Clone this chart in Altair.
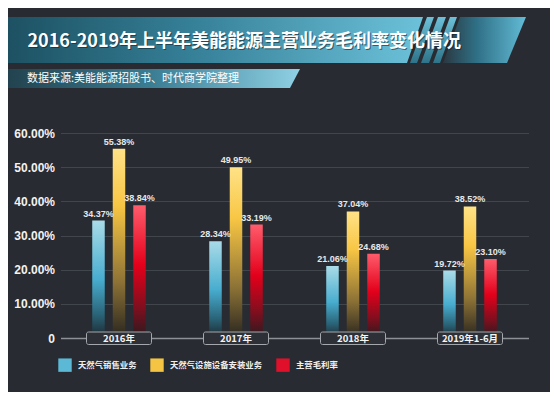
import altair as alt
import pandas as pd

categories = ["2016年", "2017年", "2018年", "2019年1-6月"]
series = ["天然气销售业务", "天然气设施设备安装业务", "主营毛利率"]
gas_sales = [0.3437, 0.2834, 0.2106, 0.1972]
install = [0.5538, 0.4995, 0.3704, 0.3852]
margin = [0.3884, 0.3319, 0.2468, 0.2310]

title_text = "2016-2019年上半年美能能源主营业务毛利率变化情况"
source_text = "数据来源:美能能源招股书、时代商学院整理"

rows = []
for i, c in enumerate(categories):
    for s, vals in zip(series, [gas_sales, install, margin]):
        rows.append({"category": c, "series": s, "value": vals[i]})
df = pd.DataFrame(rows)
cat_df = pd.DataFrame({"category": categories})
one = cat_df.head(1)

FONT = "Noto Sans CJK SC"
BG = "#282b31"
OX, OY = 60.5, 133  # plot origin on the page


def vgrad(stops):
    return alt.LinearGradient(
        gradient="linear", x1=0, y1=0, x2=0, y2=1,
        stops=[alt.GradientStop(offset=o, color=c) for o, c in stops],
    )


def hgrad(stops):
    return alt.LinearGradient(
        gradient="linear", x1=0, y1=0, x2=1, y2=0,
        stops=[alt.GradientStop(offset=o, color=c) for o, c in stops],
    )


# decorative banner polygons (page pixel coords), drawn as custom symbol paths
CX, CY, S = 265.0, 45.0, 300.0


def banner(points, fill, opacity=1.0):
    path = "M " + " L ".join(f"{(x - CX) / S:.4f} {(y - CY) / S:.4f}" for x, y in points) + " Z"
    return alt.Chart(one).mark_point(
        shape=path, filled=True, opacity=opacity, strokeWidth=0, size=(2 * S) ** 2, fill=fill,
    ).encode(x=alt.value(CX - OX), y=alt.value(CY - OY))


g_cyan = vgrad([(0, "#a9dbe8"), (0.5, "#48adcf"), (0.8, "#2a6478"), (1, "#1c272e")])
g_yellow = vgrad([(0, "#ffe287"), (0.3, "#f8c644"), (0.7, "#8e7336"), (1, "#28251f")])
g_red = vgrad([(0, "#ff5c6c"), (0.45, "#e3001b"), (0.78, "#7c0f1e"), (1, "#291b1f")])

band_main = banner([(0, 17), (423, 17), (407, 63), (0, 63)],
                   hgrad([(0, "#1c4f60"), (0.45, "#357f97"), (1, "#6cc2da")]))
stripes = alt.layer(*[
    banner([(a, 17), (b, 17), (b - 17, 63), (a - 17, 63)],
           vgrad([(0, "#6cc0d8"), (1, "#2e7389")]))
    for a, b in [(427, 434), (438, 446), (450, 457)]
])
band_end = banner([(460, 17), (526, 17), (507, 63), (443, 63)],
                  hgrad([(0, "#2a3840"), (0.4, "#2f6f85"), (1, "#62bcd6")]))
band_sub = banner([(0, 69), (300, 69), (290, 88), (0, 88)],
                  hgrad([(0, "#213f4b"), (0.5, "#3a7d93"), (1, "#8fd0e4")]))

xs = alt.X("category:N", sort=categories,
           scale=alt.Scale(paddingInner=0.474, paddingOuter=0.237),
           axis=alt.Axis(title=None, labels=False, ticks=False, domain=True,
                         domainColor="#8d9095", domainWidth=1.5, grid=False))
xo = alt.XOffset("series:N", sort=series,
                 scale=alt.Scale(paddingInner=0.39, paddingOuter=0.195))
ys = alt.Y("value:Q", scale=alt.Scale(domain=[0, 0.6], nice=False),
           axis=alt.Axis(title=None, values=[0, 0.1, 0.2, 0.3, 0.4, 0.5, 0.6],
                         labelExpr="datum.value == 0 ? '0' : format(datum.value, '.2%')",
                         labelFont="Liberation Sans", labelFontSize=12, labelFontWeight="bold",
                         labelColor="#f2f2f2", labelPadding=6, ticks=False, domain=False,
                         grid=True, gridColor="#41454c", gridWidth=1))

bars = alt.Chart(df).mark_bar().encode(
    x=xs, xOffset=xo, y=ys,
    color=alt.Color(
        "series:N", sort=series,
        scale=alt.Scale(domain=series, range=["#5bb9d6", "#f6c443", "#e0102a"]),
        legend=alt.Legend(title=None, orient="none", direction="horizontal",
                          legendX=-2.5, legendY=225, symbolType="square", symbolSize=180,
                          symbolStrokeWidth=0, labelColor="#f0f0f0", labelFont=FONT,
                          labelFontSize=8.4, labelFontWeight="bold", labelOffset=6,
                          columnPadding=13),
        condition=[
            {"test": f"datum.series == '{series[0]}'", "value": g_cyan},
            {"test": f"datum.series == '{series[1]}'", "value": g_yellow},
            {"test": f"datum.series == '{series[2]}'", "value": g_red},
        ],
    ),
)

labels = alt.Chart(df).mark_text(
    baseline="bottom", dy=-2, fontSize=9, fontWeight="bold", color="#e8e8e8",
    font="Liberation Sans",
).encode(x=xs, xOffset=xo, y=ys, text=alt.Text("value:Q", format=".2%"))

boxes = alt.Chart(cat_df).mark_bar(
    width=65, cornerRadius=2, fill="#2d3036", stroke="#a4a7ac", strokeWidth=1,
).encode(x=alt.X("category:N", sort=categories), y=alt.value(199), y2=alt.value(211.5))

box_text = alt.Chart(cat_df).mark_text(
    fontSize=9.5, fontWeight="bold", color="#f4f4f4", font=FONT, baseline="middle",
).encode(x=alt.X("category:N", sort=categories), y=alt.value(205.5), text="category:N")

title_shadow = alt.Chart(one).mark_text(
    align="left", baseline="middle", fontSize=18, fontWeight="bold", color="#0d2630",
    opacity=0.6, font=FONT,
).encode(x=alt.value(28.5 - OX), y=alt.value(42.5 - OY), text=alt.value(title_text))

title = alt.Chart(one).mark_text(
    align="left", baseline="middle", fontSize=18, fontWeight="bold", color="#ffffff",
    font=FONT,
).encode(x=alt.value(27.5 - OX), y=alt.value(41.5 - OY), text=alt.value(title_text))

subtitle = alt.Chart(one).mark_text(
    align="left", baseline="middle", fontSize=11, color="#ffffff", font=FONT,
).encode(x=alt.value(27 - OX), y=alt.value(79 - OY), text=alt.value(source_text))

chart = alt.layer(
    band_main, stripes, band_end, band_sub, title_shadow, title, subtitle,
    bars, labels, boxes, box_text,
).properties(
    width=468, height=205, autosize="none",
    padding={"left": 52.5, "top": 125, "right": 21.5, "bottom": 54},
    background=BG,
).configure_view(stroke=None)

chart.save("out.html", embed_options={"renderer": "svg", "actions": False})
